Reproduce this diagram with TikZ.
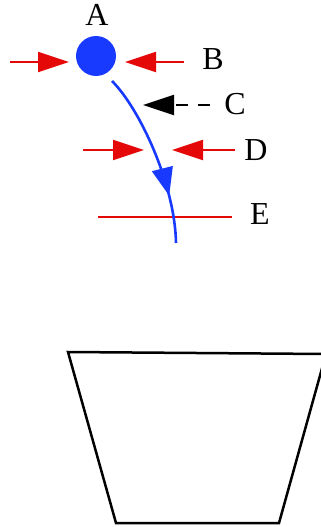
\documentclass[tikz,border=0pt]{standalone}
\usepackage{fontspec}
\setmainfont{Liberation Serif}
\usepackage{tikz}
\usetikzlibrary{arrows.meta, decorations.markings}
\definecolor{beamred}{RGB}{228, 8, 8}
\definecolor{beamblue}{RGB}{24, 58, 255}

\begin{document}
\begin{tikzpicture}[x=1pt, y=-1pt,
  lbl/.style={font={\fontsize{32pt}{36pt}\selectfont}, inner sep=0pt},
  push/.style={-{Triangle[length=31pt, width=20pt]}, line width=2pt, draw=beamred},
  cut/.style={line width=2pt, draw=beamred},
  path/.style={line width=2.6pt, draw=beamblue, postaction={decorate},
    decoration={markings, mark=at position 0.73 with
      {\arrow{Triangle[length=28pt, width=21pt, fill=beamblue]}}}}
]
  \useasboundingbox (0,0) rectangle (321,527);

  % particle
  \node[circle, fill=beamblue, minimum size=40pt, inner sep=0pt] (a) at (96,56) {};
  \node[lbl] (la) at (97,15) {A};
  \node[lbl] (lb) at (213,59) {B};
  \node[lbl] (lc) at (235,104) {C};
  \node[lbl] (ld) at (256,150) {D};
  \node[lbl] (le) at (260,214) {E};

  % arrow ends
  \coordinate (b1) at (10,62);
  \coordinate (b2) at (69,62);
  \coordinate (b3) at (184,62);
  \coordinate (b4) at (125,62);
  \coordinate (c1) at (210,105);
  \coordinate (c2) at (143,105);
  \coordinate (d1) at (83,150);
  \coordinate (d2) at (144,150);
  \coordinate (d3) at (235,150);
  \coordinate (d4) at (172,150);
  \coordinate (e1) at (98,217);
  \coordinate (e2) at (232,217);
  \coordinate (s) at (112,81);
  \coordinate (t) at (176,243);

  \draw[push] (b1) -- (b2);
  \draw[push] (b3) -- (b4);
  \draw[push, draw=black, dash pattern=on 12pt off 10pt] (c1) -- (c2);
  \draw[push] (d1) -- (d2);
  \draw[push] (d3) -- (d4);
  \draw[cut] (e1) -- (e2);
  \draw[path] (s) .. controls (140,109) and (175,185) .. (t);

  % funnel
  \begin{scope}
    \clip (0,0) rectangle (321,527);
    \draw[line width=2.5pt, line join=miter] (68,352) -- (326,354) -- (279,523) -- (116,523) -- cycle;
  \end{scope}
\end{tikzpicture}
\end{document}
